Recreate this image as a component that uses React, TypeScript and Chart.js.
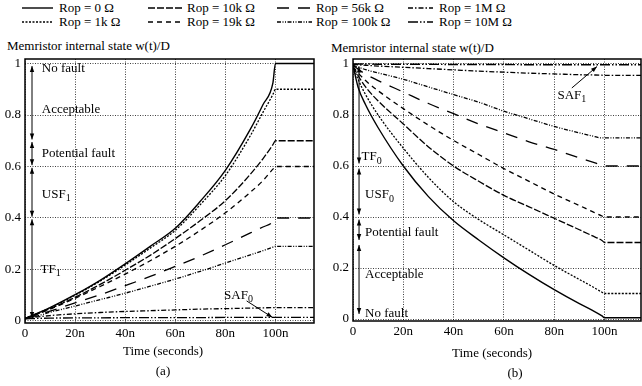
import React, { useEffect, useRef } from 'react';
import { Chart, registerables } from 'chart.js';
Chart.register(...registerables);

const FONT = '"Liberation Serif", "Times New Roman", Times, serif';
Chart.defaults.font.family = FONT;
const FS = 13;

// ---------- data ----------
const timeNs = [0, 2, 5, 10, 20, 30, 40, 50, 60, 70, 80, 90, 95, 99, 100, 116];

const seriesLabels = ['Rop = 0 Ω', 'Rop = 1k Ω', 'Rop = 10k Ω', 'Rop = 19k Ω', 'Rop = 56k Ω', 'Rop = 100k Ω', 'Rop = 1M Ω', 'Rop = 10M Ω'];

const xTickValues = [0, 20, 40, 60, 80, 100];
const xTickLabels = ['0', '20n', '40n', '60n', '80n', '100n'];
const yTickValues = [0, 0.2, 0.4, 0.6, 0.8, 1];
const yTickLabels = ['0', '0.2', '0.4', '0.6', '0.8', '1'];

// (a) SET
const a_rop0 = [0.01, 0.018, 0.03, 0.052, 0.102, 0.158, 0.222, 0.29, 0.36, 0.465, 0.585, 0.745, 0.84, 0.925, 1.0, 1.0];
const a_rop1k = [0.01, 0.018, 0.03, 0.051, 0.1, 0.155, 0.217, 0.283, 0.352, 0.452, 0.565, 0.72, 0.81, 0.88, 0.9, 0.9];
const a_rop10k = [0.01, 0.017, 0.028, 0.048, 0.092, 0.142, 0.197, 0.255, 0.32, 0.39, 0.467, 0.57, 0.63, 0.685, 0.7, 0.7];
const a_rop19k = [0.01, 0.017, 0.027, 0.046, 0.088, 0.134, 0.182, 0.234, 0.29, 0.352, 0.42, 0.5, 0.545, 0.59, 0.6, 0.6];
const a_rop56k = [0.01, 0.015, 0.022, 0.038, 0.07, 0.102, 0.137, 0.173, 0.212, 0.252, 0.296, 0.342, 0.365, 0.385, 0.4, 0.4];
const a_rop100k = [0.01, 0.014, 0.02, 0.034, 0.058, 0.083, 0.108, 0.135, 0.163, 0.193, 0.225, 0.257, 0.273, 0.287, 0.29, 0.29];
const a_rop1M = [0.01, 0.013, 0.016, 0.021, 0.028, 0.033, 0.037, 0.04, 0.043, 0.046, 0.048, 0.05, 0.051, 0.052, 0.052, 0.052];
const a_rop10M = [0.008, 0.009, 0.01, 0.011, 0.012, 0.012, 0.013, 0.013, 0.013, 0.013, 0.014, 0.014, 0.014, 0.014, 0.014, 0.014];

// (b) RESET
const b_rop0 = [0.995, 0.91, 0.84, 0.75, 0.6, 0.48, 0.385, 0.31, 0.24, 0.175, 0.115, 0.06, 0.035, 0.012, 0.005, 0.005];
const b_rop1k = [0.99, 0.94, 0.88, 0.8, 0.67, 0.555, 0.46, 0.39, 0.33, 0.27, 0.21, 0.155, 0.128, 0.105, 0.1, 0.1];
const b_rop10k = [0.99, 0.955, 0.91, 0.855, 0.765, 0.675, 0.6, 0.54, 0.485, 0.44, 0.395, 0.35, 0.327, 0.308, 0.3, 0.3];
const b_rop19k = [0.99, 0.965, 0.935, 0.895, 0.825, 0.76, 0.7, 0.645, 0.59, 0.54, 0.49, 0.445, 0.422, 0.404, 0.4, 0.4];
const b_rop56k = [0.995, 0.98, 0.96, 0.935, 0.89, 0.845, 0.805, 0.765, 0.73, 0.695, 0.665, 0.632, 0.616, 0.603, 0.6, 0.6];
const b_rop100k = [0.995, 0.988, 0.978, 0.965, 0.94, 0.91, 0.88, 0.85, 0.815, 0.785, 0.755, 0.73, 0.718, 0.71, 0.71, 0.71];
const b_rop1M = [0.999, 0.997, 0.995, 0.992, 0.987, 0.982, 0.977, 0.972, 0.968, 0.964, 0.961, 0.958, 0.957, 0.956, 0.955, 0.955];
const b_rop10M = [1.0, 1.0, 1.0, 0.999, 0.999, 0.999, 0.998, 0.998, 0.998, 0.997, 0.997, 0.997, 0.997, 0.997, 0.997, 0.997];

const seriesA = [a_rop0, a_rop1k, a_rop10k, a_rop19k, a_rop56k, a_rop100k, a_rop1M, a_rop10M];
const seriesB = [b_rop0, b_rop1k, b_rop10k, b_rop19k, b_rop56k, b_rop100k, b_rop1M, b_rop10M];

// ---------- styles ----------
const dashes: number[][] = [
  [],
  [2, 1.5],
  [7, 2],
  [5, 4],
  [12, 9],
  [4, 1.5, 1, 1.5, 1, 1.5],
  [5, 2, 1.5, 2],
  [10, 2, 1.5, 2, 1.5, 2],
];
const widths = [1.4, 1.3, 1.3, 1.3, 1.3, 1.3, 1.3, 1.4];

type Label = { t: number; v: number; text: string; sub?: string };
type Arrow = { t1: number; v1: number; t2: number; v2: number; head1: boolean; head2: boolean };

const annoA = {
  labels: [
    { t: 6.7, v: 0.98, text: 'No fault' },
    { t: 6.7, v: 0.82, text: 'Acceptable' },
    { t: 6.7, v: 0.65, text: 'Potential fault' },
    { t: 6.7, v: 0.49, text: 'USF', sub: '1' },
    { t: 6.2, v: 0.2, text: 'TF', sub: '1' },
    { t: 79.5, v: 0.1, text: 'SAF', sub: '0' },
  ] as Label[],
  arrows: [
    { t1: 2.8, v1: 0.99, t2: 2.8, v2: 0.705, head1: true, head2: true },
    { t1: 2.8, v1: 0.695, t2: 2.8, v2: 0.605, head1: true, head2: true },
    { t1: 2.8, v1: 0.595, t2: 2.8, v2: 0.405, head1: true, head2: true },
    { t1: 2.8, v1: 0.395, t2: 2.8, v2: 0.012, head1: true, head2: true },
    { t1: 88.5, v1: 0.078, t2: 98.8, v2: 0.014, head1: false, head2: true },
  ] as Arrow[],
};

const annoB = {
  labels: [
    { t: 3.4, v: 0.635, text: 'TF', sub: '0' },
    { t: 4.8, v: 0.486, text: 'USF', sub: '0' },
    { t: 4.8, v: 0.34, text: 'Potential fault' },
    { t: 4.8, v: 0.176, text: 'Acceptable' },
    { t: 4.8, v: 0.02, text: 'No fault' },
    { t: 81.3, v: 0.878, text: 'SAF', sub: '1' },
  ] as Label[],
  arrows: [
    { t1: 2.4, v1: 0.99, t2: 2.4, v2: 0.61, head1: true, head2: true },
    { t1: 2.4, v1: 0.59, t2: 2.4, v2: 0.41, head1: true, head2: true },
    { t1: 2.4, v1: 0.39, t2: 2.4, v2: 0.31, head1: true, head2: true },
    { t1: 2.4, v1: 0.29, t2: 2.4, v2: 0.02, head1: true, head2: true },
    { t1: 87, v1: 0.906, t2: 97, v2: 0.99, head1: false, head2: true },
  ] as Arrow[],
};

function drawHead(ctx: CanvasRenderingContext2D, x: number, y: number, fx: number, fy: number) {
  const ang = Math.atan2(y - fy, x - fx);
  const L = 6, W = 2.2;
  ctx.beginPath();
  ctx.moveTo(x, y);
  ctx.lineTo(x - L * Math.cos(ang) + W * Math.sin(ang), y - L * Math.sin(ang) - W * Math.cos(ang));
  ctx.lineTo(x - L * Math.cos(ang) - W * Math.sin(ang), y - L * Math.sin(ang) + W * Math.cos(ang));
  ctx.closePath();
  ctx.fill();
}

function makeAnnoPlugin(anno: { labels: Label[]; arrows: Arrow[] }) {
  return {
    id: 'annoFrame',
    afterDraw(chart: any) {
      const { ctx, chartArea } = chart;
      const xs = chart.scales.x, ys = chart.scales.y;
      ctx.save();
      ctx.setLineDash([]);
      ctx.strokeStyle = '#000';
      ctx.fillStyle = '#000';
      ctx.lineWidth = 1.5;
      ctx.strokeRect(chartArea.left, chartArea.top, chartArea.right - chartArea.left, chartArea.bottom - chartArea.top);
      ctx.lineWidth = 1;
      for (const a of anno.arrows) {
        const x1 = xs.getPixelForValue(a.t1), y1 = ys.getPixelForValue(a.v1);
        const x2 = xs.getPixelForValue(a.t2), y2 = ys.getPixelForValue(a.v2);
        ctx.beginPath();
        ctx.moveTo(x1, y1);
        ctx.lineTo(x2, y2);
        ctx.stroke();
        if (a.head1) drawHead(ctx, x1, y1, x2, y2);
        if (a.head2) drawHead(ctx, x2, y2, x1, y1);
      }
      ctx.textBaseline = 'middle';
      ctx.textAlign = 'left';
      for (const l of anno.labels) {
        const x = xs.getPixelForValue(l.t), y = ys.getPixelForValue(l.v);
        ctx.font = `${FS}px ${FONT}`;
        ctx.fillText(l.text, x, y);
        if (l.sub) {
          const w = ctx.measureText(l.text).width;
          ctx.font = `10px ${FONT}`;
          ctx.fillText(l.sub, x + w, y + 4);
        }
      }
      ctx.restore();
    },
  };
}

type PanelProps = {
  series: number[][];
  xMax: number; yMin: number; yMax: number;
  yAxisW: number; xAxisH: number; padTop: number; padRight: number;
  anno: { labels: Label[]; arrows: Arrow[] };
  width: number; height: number;
};

function Panel(p: PanelProps) {
  const ref = useRef<HTMLCanvasElement>(null);
  useEffect(() => {
    if (!ref.current) return;
    const tickFont = { family: FONT, size: FS };
    const chart = new Chart(ref.current, {
      type: 'line',
      data: {
        datasets: p.series.map((vals, i) => ({
          label: seriesLabels[i],
          data: timeNs.map((t, j) => ({ x: t, y: vals[j] })),
          borderColor: '#000',
          borderWidth: widths[i],
          borderDash: dashes[i],
          pointRadius: 0,
          fill: false,
          cubicInterpolationMode: 'monotone' as const,
        })),
      },
      options: {
        animation: false,
        responsive: false,
        maintainAspectRatio: false,
        layout: { padding: { top: p.padTop, right: p.padRight, left: 0, bottom: 0 } },
        plugins: { legend: { display: false }, tooltip: { enabled: false }, title: { display: false } },
        scales: {
          x: {
            type: 'linear', min: 0, max: p.xMax,
            afterBuildTicks: (s: any) => { s.ticks = xTickValues.map((v) => ({ value: v })); },
            afterFit: (s: any) => { s.height = p.xAxisH; },
            ticks: {
              autoSkip: false, maxRotation: 0, padding: 3, color: '#000', font: tickFont,
              callback: (v: any) => { const i = xTickValues.indexOf(Number(v)); return i >= 0 ? xTickLabels[i] : ''; },
            },
            grid: { color: 'rgba(0,0,0,0.75)', lineWidth: 1, drawTicks: false },
            border: { display: false, dash: [1, 1.5] },
          },
          y: {
            type: 'linear', min: p.yMin, max: p.yMax,
            afterBuildTicks: (s: any) => { s.ticks = yTickValues.map((v) => ({ value: v })); },
            afterFit: (s: any) => { s.width = p.yAxisW; },
            ticks: {
              autoSkip: false, padding: 4, color: '#000', font: tickFont,
              callback: (v: any) => { const i = yTickValues.findIndex((t) => Math.abs(t - Number(v)) < 1e-6); return i >= 0 ? yTickLabels[i] : ''; },
            },
            grid: { color: 'rgba(0,0,0,0.75)', lineWidth: 1, drawTicks: false },
            border: { display: false, dash: [1, 1.5] },
          },
        },
      },
      plugins: [makeAnnoPlugin(p.anno)],
    } as any);
    return () => chart.destroy();
  }, []);
  return <canvas ref={ref} width={p.width} height={p.height} style={{ width: p.width, height: p.height, display: 'block' }} />;
}

function LegendLine({ x, y, w, dash, lw }: { x: number; y: number; w: number; dash: number[]; lw: number }) {
  return (
    <svg style={{ position: 'absolute', left: x, top: y - 3, overflow: 'visible' }} width={w} height={6}>
      <line x1={0} y1={3} x2={w} y2={3} stroke="#000" strokeWidth={lw} strokeDasharray={dash.length ? dash.join(' ') : undefined} />
    </svg>
  );
}

const legendCols = [
  { lineX: 22, lineW: 31, textX: 59 },
  { lineX: 148, lineW: 34, textX: 187 },
  { lineX: 277, lineW: 35, textX: 316 },
  { lineX: 408, lineW: 25, textX: 439 },
];
const legendRows = [7.5, 21.5];

function txt(text: React.ReactNode, left: number, cy: number, extra: React.CSSProperties = {}) {
  return (
    <div style={{ position: 'absolute', left, top: cy - 8, height: 16, lineHeight: '16px', fontSize: FS, whiteSpace: 'nowrap', ...extra }}>{text}</div>
  );
}

export default function App() {
  return (
    <div style={{ position: 'absolute', left: 0, top: 0, width: 642, height: 386, background: '#fff', fontFamily: FONT, color: '#000', overflow: 'hidden' }}>
      {seriesLabels.map((lab, i) => {
        const col = legendCols[Math.floor(i / 2)];
        const cy = legendRows[i % 2];
        return (
          <React.Fragment key={lab}>
            <LegendLine x={col.lineX} y={cy} w={col.lineW} dash={dashes[i]} lw={widths[i]} />
            {txt(lab, col.textX, cy)}
          </React.Fragment>
        );
      })}
      {txt('Memristor internal state w(t)/D', 7, 46)}
      {txt('Memristor internal state w(t)/D', 331, 48)}
      <div style={{ position: 'absolute', left: 0, top: 40 }}>
        <Panel series={seriesA} xMax={115.4} yMin={-0.0078} yMax={1.0175} yAxisW={25} xAxisH={27} padTop={19} padRight={6} anno={annoA} width={320} height={310} />
      </div>
      <div style={{ position: 'absolute', left: 320, top: 40 }}>
        <Panel series={seriesB} xMax={114.5} yMin={-0.0078} yMax={1.0196} yAxisW={33} xAxisH={29} padTop={19} padRight={1} anno={annoB} width={322} height={310} />
      </div>
      {txt('Time (seconds)', 163, 351, { transform: 'translateX(-50%)' })}
      {txt('Time (seconds)', 492, 352.5, { transform: 'translateX(-50%)' })}
      {txt('(a)', 163, 371, { transform: 'translateX(-50%)' })}
      {txt('(b)', 515, 373, { transform: 'translateX(-50%)' })}
    </div>
  );
}
